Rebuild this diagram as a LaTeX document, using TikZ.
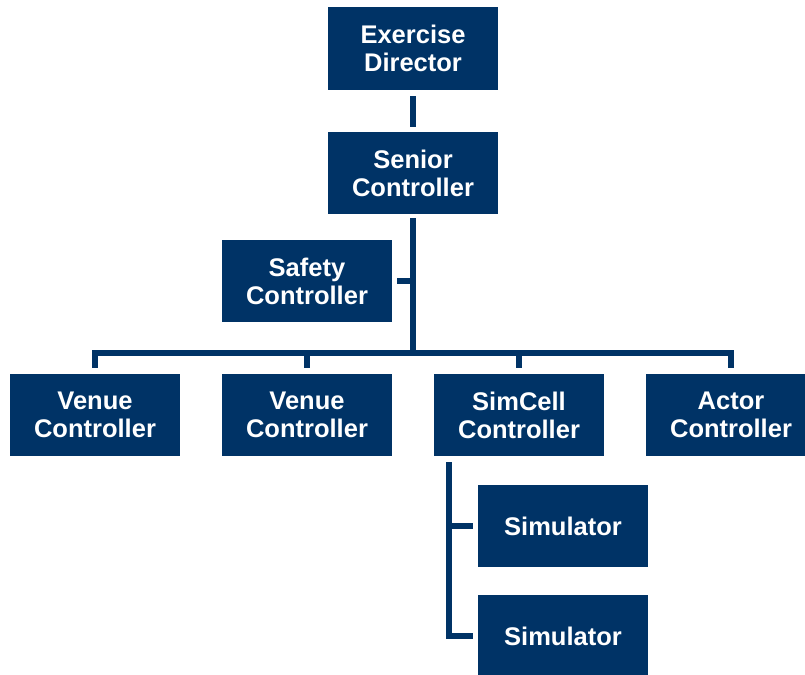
\documentclass[tikz,border=0pt]{standalone}
\usepackage{fontspec}
\setmainfont{Liberation Sans}
\definecolor{navy}{RGB}{0,51,102}
\begin{document}
\begin{tikzpicture}[x=1pt,y=-1pt,
  box/.style={fill=navy,text=white,minimum width=170pt,minimum height=82pt,inner sep=0pt,
    align=center,font=\fontsize{25.5}{28}\selectfont\bfseries},
  conn/.style={draw=navy,line width=6pt,line join=miter}]
\useasboundingbox (0,0) rectangle (805,674);
\node[box,minimum height=83pt] (ed) at (413,48.5) {Exercise\\Director};
\node[box] (sc) at (413,173) {Senior\\Controller};
\node[box] (saf) at (307,281) {Safety\\Controller};
\node[box] (v1) at (95,415) {Venue\\Controller};
\node[box] (v2) at (307,415) {Venue\\Controller};
\node[box] (sim) at (519,415) {SimCell\\Controller};
\node[box] (act) at (731,415) {Actor\\Controller};
\node[box] (s1) at (563,526) {Simulator};
\node[box] (s2) at (563,636) {Simulator};
\coordinate (bus) at (413,353);
\coordinate (st) at (449,462);
% connectors
\draw[conn] ([yshift=-6pt]ed.south) -- ([yshift=5pt]sc.north);
\draw[conn] ([yshift=-4pt]sc.south) -- ([yshift=-3pt]bus);
\draw[conn] ([xshift=5pt]saf.east) -- (saf.east -| bus);
\draw[conn,line width=5.5pt] ([yshift=6pt]v1.north) -- (v1.north |- bus) -- (act.north |- bus) -- ([yshift=6pt]act.north);
\draw[conn,line width=5.5pt] (v2.north |- bus) -- ([yshift=6pt]v2.north);
\draw[conn,line width=5.5pt] (sim.north |- bus) -- ([yshift=6pt]sim.north);
\draw[conn] (st) |- ([xshift=-5pt]s2.west);
\draw[conn] (st |- s1.west) -- ([xshift=-5pt]s1.west);
\end{tikzpicture}
\end{document}
